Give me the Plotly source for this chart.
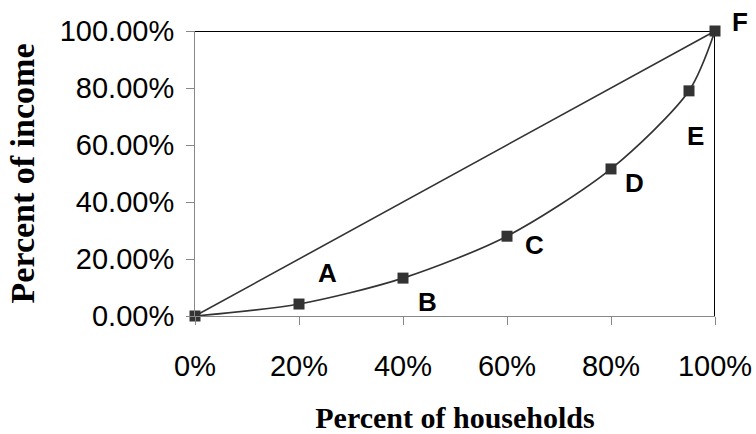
import plotly.graph_objects as go

# Data (percent)
households = [0, 20, 40, 60, 80, 95, 100]
income = [0, 4.2, 13.3, 28.0, 51.6, 79.0, 100]
equality_x = [0, 100]
equality_y = [0, 100]
frame_x = [0, 100, 100]
frame_y = [100, 100, 0]
label_text = ["A", "B", "C", "D", "E", "F"]
label_x = [25.4, 44.8, 65.2, 84.6, 96.2, 104.8]
label_y = [15.1, 4.9, 24.9, 46.7, 63.2, 103.2]
x_ticks = [0, 20, 40, 60, 80, 100]
x_ticktext = ["0%", "20%", "40%", "60%", "80%", "100%"]
y_ticks = [0, 20, 40, 60, 80, 100]
y_ticktext = ["0.00%", "20.00%", "40.00%", "60.00%", "80.00%", "100.00%"]

fig = go.Figure()
fig.add_trace(go.Scatter(x=frame_x, y=frame_y, mode="lines",
                         line=dict(color="#000000", width=2), cliponaxis=False,
                         hoverinfo="skip"))
fig.add_trace(go.Scatter(x=equality_x, y=equality_y, mode="lines",
                         line=dict(color="#333333", width=1.6), cliponaxis=False))
fig.add_trace(go.Scatter(x=households, y=income, mode="lines+markers",
                         line=dict(color="#333333", width=1.7, shape="spline", smoothing=0.8),
                         marker=dict(symbol="square", size=11, color="#333333"),
                         cliponaxis=False))

for t, x, y in zip(label_text, label_x, label_y):
    fig.add_annotation(x=x / 100, y=y / 100, text="<b>" + t + "</b>", showarrow=False,
                       xanchor="center", yanchor="middle",
                       font=dict(family="Liberation Sans, Arial", size=26, color="#000000"),
                       xref="x domain", yref="y domain")

fig.update_layout(
    width=756, height=434,
    margin=dict(l=195, r=41, t=31, b=118),
    plot_bgcolor="white", paper_bgcolor="white",
    showlegend=False,
    font=dict(family="Liberation Sans, Arial", color="#000000"),
)
fig.update_xaxes(range=[0, 100], tickvals=x_ticks, ticktext=x_ticktext, automargin=False,
                 showgrid=False, zeroline=False, showline=True, linecolor="#888888", linewidth=1,
                 ticks="outside", ticklen=8, tickcolor="#888888", ticklabelstandoff=16,
                 tickfont=dict(family="Liberation Sans, Arial", size=29, color="#000000"),
                 title=dict(text="<b>Percent of households</b>", standoff=32,
                            font=dict(family="Liberation Serif, Times New Roman", size=30, color="#000000")))
fig.update_yaxes(range=[0, 100], tickvals=y_ticks, ticktext=y_ticktext, automargin=False,
                 showgrid=False, zeroline=False, showline=True, linecolor="#888888", linewidth=1,
                 ticks="outside", ticklen=8, tickcolor="#888888", ticklabelstandoff=6,
                 tickfont=dict(family="Liberation Sans, Arial", size=29, color="#000000"),
                 title=dict(text="<b>Percent of income</b>", standoff=14,
                            font=dict(family="Liberation Serif, Times New Roman", size=34, color="#000000")))

fig.write_html("out.html", config={"displayModeBar": False},
               post_script="document.body.style.margin='0';")
